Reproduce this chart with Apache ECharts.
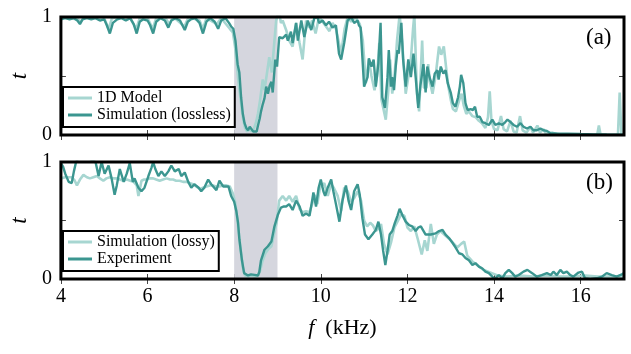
<!DOCTYPE html>
<html><head><meta charset="utf-8">
<script src="https://cdn.jsdelivr.net/npm/echarts@6/dist/echarts.min.js"></script>
<style>html,body{margin:0;padding:0;background:#fff}#c{width:631px;height:354px}</style>
</head><body><div id="c"></div>
<script>
const xTicks = [4, 6, 8, 10, 12, 14, 16];
const yTicks = [0, 1];
const band = [8, 9];
const panelLabels = ['(a)', '(b)'];
const seriesNames = ['1D Model', 'Simulation (lossless)', 'Simulation (lossy)', 'Experiment'];

const model1D = [[4.0,1.0],[4.2,0.99],[4.4,0.98],[4.45,0.96],[4.55,1.0],[4.8,0.99],[5.0,0.99],[5.1,0.9],[5.18,0.99],[5.4,1.0],[5.6,0.99],[5.74,0.9],[5.82,0.99],[6.0,0.99],[6.12,0.9],[6.2,0.99],[6.4,1.0],[6.5,0.94],[6.6,1.0],[6.85,0.92],[6.95,1.0],[7.2,0.97],[7.28,0.9],[7.36,0.99],[7.6,0.94],[7.7,0.99],[7.9,0.9],[7.97,0.87],[8.02,0.75],[8.06,0.6],[8.1,0.45],[8.15,0.3],[8.2,0.15],[8.25,0.06],[8.3,0.03],[8.35,0.05],[8.4,0.03],[8.45,0.05],[8.5,0.1],[8.55,0.18],[8.6,0.3],[8.66,0.47],[8.7,0.38],[8.78,0.58],[8.81,0.66],[8.87,0.53],[8.93,0.8],[8.97,0.97],[9.03,1.05],[9.08,0.95],[9.12,0.97],[9.2,0.89],[9.27,0.8],[9.35,0.75],[9.43,0.95],[9.51,0.78],[9.58,0.64],[9.66,0.97],[9.74,0.91],[9.8,0.97],[9.88,0.86],[9.96,1.0],[10.1,0.93],[10.2,0.88],[10.27,0.95],[10.35,0.9],[10.47,0.69],[10.55,0.9],[10.62,1.0],[10.7,0.96],[10.8,1.0],[10.9,0.94],[10.97,0.8],[11.04,0.44],[11.11,0.64],[11.17,0.5],[11.24,0.38],[11.3,0.5],[11.35,0.78],[11.4,0.3],[11.5,0.13],[11.56,0.38],[11.6,0.64],[11.65,0.35],[11.7,0.49],[11.76,0.8],[11.82,1.02],[11.88,0.78],[11.96,0.35],[12.02,0.49],[12.08,0.64],[12.13,0.9],[12.16,1.02],[12.22,0.35],[12.27,0.2],[12.34,0.8],[12.38,0.4],[12.44,0.4],[12.48,0.6],[12.52,0.45],[12.58,0.35],[12.65,0.5],[12.73,0.75],[12.78,0.68],[12.84,0.75],[12.9,0.55],[12.95,0.4],[13.0,0.3],[13.05,0.22],[13.12,0.2],[13.2,0.3],[13.25,0.35],[13.3,0.25],[13.36,0.18],[13.42,0.2],[13.5,0.16],[13.58,0.15],[13.65,0.12],[13.72,0.1],[13.8,0.06],[13.86,0.15],[13.9,0.37],[13.94,0.12],[14.0,0.05],[14.08,0.04],[14.16,0.16],[14.22,0.05],[14.3,0.03],[14.38,0.12],[14.45,0.03],[14.52,0.02],[14.6,0.16],[14.66,0.04],[14.75,0.02],[14.84,0.07],[14.9,0.02],[15.0,0.08],[15.06,0.02],[15.14,0.05],[15.2,0.01],[15.35,0.02],[15.5,0.0],[16.0,0.0],[16.38,0.0],[16.42,0.08],[16.46,0.0],[16.86,0.0],[16.9,0.36],[16.94,0.0],[17.0,0.0]];

const simLossless = [[4.0,0.98],[4.1,0.99],[4.2,0.98],[4.3,0.99],[4.38,0.97],[4.44,0.94],[4.5,0.98],[4.6,0.99],[4.7,0.98],[4.8,0.99],[4.9,0.97],[5.0,0.98],[5.06,0.93],[5.13,0.86],[5.2,0.95],[5.3,0.98],[5.4,0.99],[5.5,0.97],[5.6,0.99],[5.68,0.94],[5.75,0.86],[5.82,0.96],[5.9,0.98],[6.0,0.97],[6.06,0.93],[6.13,0.86],[6.2,0.96],[6.3,0.99],[6.4,0.97],[6.48,0.91],[6.55,0.97],[6.65,0.99],[6.75,0.97],[6.86,0.89],[6.93,0.96],[7.0,0.98],[7.1,0.99],[7.2,0.95],[7.28,0.86],[7.36,0.96],[7.45,0.99],[7.55,0.96],[7.63,0.9],[7.7,0.97],[7.8,0.99],[7.88,0.95],[7.93,0.92],[7.98,0.9],[8.03,0.8],[8.08,0.6],[8.12,0.53],[8.16,0.32],[8.2,0.18],[8.24,0.1],[8.28,0.06],[8.32,0.04],[8.36,0.07],[8.4,0.05],[8.44,0.03],[8.48,0.04],[8.52,0.03],[8.55,0.08],[8.59,0.14],[8.62,0.2],[8.66,0.26],[8.7,0.31],[8.74,0.41],[8.78,0.35],[8.82,0.42],[8.86,0.45],[8.89,0.36],[8.95,0.64],[8.99,0.58],[9.04,0.83],[9.12,0.82],[9.2,0.85],[9.24,0.8],[9.31,0.875],[9.35,0.78],[9.43,0.95],[9.47,0.8],[9.55,0.97],[9.62,0.83],[9.7,0.97],[9.78,0.89],[9.85,0.99],[9.92,1.0],[9.96,0.95],[10.04,0.97],[10.12,0.93],[10.19,0.96],[10.27,0.91],[10.35,0.93],[10.42,0.69],[10.47,0.64],[10.54,0.78],[10.62,0.97],[10.7,1.0],[10.77,0.95],[10.85,0.97],[10.88,0.93],[10.92,0.91],[11.0,0.41],[11.08,0.49],[11.11,0.65],[11.17,0.58],[11.22,0.64],[11.27,0.41],[11.33,0.61],[11.38,0.95],[11.42,0.32],[11.48,0.23],[11.54,0.49],[11.57,0.72],[11.62,0.41],[11.65,0.49],[11.69,0.38],[11.73,0.58],[11.77,0.72],[11.8,0.69],[11.86,0.95],[11.9,0.64],[11.96,0.41],[12.02,0.64],[12.08,0.49],[12.14,0.69],[12.19,0.49],[12.25,0.23],[12.3,0.42],[12.37,0.6],[12.42,0.36],[12.46,0.58],[12.51,0.49],[12.58,0.41],[12.63,0.52],[12.69,0.55],[12.72,0.47],[12.77,0.58],[12.83,0.52],[12.88,0.55],[12.93,0.44],[13.0,0.36],[13.05,0.27],[13.11,0.24],[13.17,0.32],[13.21,0.41],[13.24,0.51],[13.29,0.44],[13.34,0.27],[13.39,0.21],[13.46,0.22],[13.51,0.21],[13.56,0.24],[13.61,0.155],[13.67,0.155],[13.73,0.11],[13.8,0.1],[13.88,0.085],[13.96,0.13],[14.03,0.085],[14.11,0.1],[14.19,0.085],[14.26,0.11],[14.31,0.13],[14.38,0.11],[14.45,0.085],[14.53,0.07],[14.61,0.1],[14.68,0.07],[14.76,0.055],[14.84,0.07],[14.91,0.04],[14.99,0.04],[15.07,0.055],[15.14,0.04],[15.22,0.035],[15.3,0.015],[15.5,0.01],[15.7,0.012],[16.0,0.008],[16.3,0.005],[16.6,0.004],[17.0,0.003]];

const simLossy = [[4.0,0.86],[4.1,0.87],[4.25,0.87],[4.32,0.84],[4.37,0.8],[4.44,0.85],[4.52,0.89],[4.6,0.87],[4.67,0.86],[4.75,0.87],[4.83,0.88],[4.9,0.86],[4.98,0.84],[5.05,0.86],[5.13,0.87],[5.2,0.86],[5.29,0.86],[5.36,0.85],[5.44,0.84],[5.52,0.85],[5.6,0.84],[5.68,0.83],[5.75,0.8],[5.79,0.71],[5.83,0.78],[5.86,0.84],[5.92,0.85],[5.98,0.85],[6.05,0.86],[6.13,0.86],[6.2,0.85],[6.28,0.84],[6.36,0.85],[6.44,0.86],[6.52,0.85],[6.59,0.85],[6.66,0.84],[6.74,0.84],[6.82,0.83],[6.9,0.83],[6.97,0.82],[7.05,0.81],[7.13,0.79],[7.21,0.77],[7.28,0.78],[7.36,0.79],[7.44,0.8],[7.51,0.8],[7.58,0.79],[7.66,0.79],[7.74,0.8],[7.82,0.8],[7.9,0.79],[7.97,0.73],[8.02,0.66],[8.06,0.55],[8.1,0.42],[8.15,0.25],[8.2,0.1],[8.25,0.03],[8.32,0.02],[8.4,0.03],[8.48,0.02],[8.55,0.03],[8.6,0.07],[8.65,0.15],[8.72,0.22],[8.8,0.26],[8.86,0.28],[8.92,0.38],[8.98,0.48],[9.04,0.67],[9.12,0.71],[9.2,0.67],[9.27,0.71],[9.35,0.66],[9.43,0.71],[9.51,0.6],[9.58,0.57],[9.66,0.58],[9.74,0.57],[9.8,0.64],[9.86,0.72],[9.92,0.64],[9.98,0.78],[10.08,0.82],[10.16,0.71],[10.24,0.81],[10.3,0.78],[10.39,0.71],[10.47,0.58],[10.54,0.78],[10.62,0.75],[10.7,0.66],[10.77,0.69],[10.85,0.75],[10.93,0.67],[11.0,0.5],[11.07,0.45],[11.14,0.48],[11.2,0.46],[11.27,0.41],[11.33,0.43],[11.39,0.47],[11.46,0.3],[11.54,0.21],[11.62,0.31],[11.7,0.44],[11.77,0.49],[11.85,0.55],[11.93,0.54],[12.0,0.44],[12.08,0.41],[12.16,0.45],[12.24,0.34],[12.33,0.21],[12.4,0.33],[12.46,0.24],[12.54,0.47],[12.61,0.3],[12.68,0.38],[12.76,0.41],[12.85,0.38],[13.0,0.33],[13.15,0.27],[13.24,0.3],[13.31,0.32],[13.38,0.2],[13.5,0.15],[13.61,0.12],[13.75,0.08],[13.95,0.05],[14.08,0.03],[14.3,0.02],[14.6,0.03],[14.9,0.02],[15.2,0.03],[15.5,0.02],[15.8,0.02],[16.1,0.03],[16.4,0.02],[16.7,0.02],[17.0,0.02]];

const experiment = [[4.0,0.99],[4.05,0.96],[4.1,0.9],[4.18,0.83],[4.25,0.82],[4.3,0.92],[4.35,1.0],[4.4,1.03],[4.5,1.05],[4.6,1.04],[4.7,1.02],[4.8,1.0],[4.87,0.88],[4.94,1.0],[5.01,0.9],[5.1,0.97],[5.17,0.86],[5.24,0.72],[5.29,0.8],[5.36,0.94],[5.45,0.83],[5.52,0.9],[5.59,0.99],[5.66,0.83],[5.7,0.86],[5.79,0.78],[5.86,0.75],[5.93,0.78],[6.02,0.88],[6.09,0.95],[6.13,1.0],[6.18,0.94],[6.25,0.88],[6.32,0.92],[6.4,0.88],[6.48,0.92],[6.55,0.97],[6.63,0.92],[6.72,0.94],[6.78,0.88],[6.86,0.91],[6.94,0.83],[7.01,0.78],[7.08,0.81],[7.18,0.78],[7.24,0.75],[7.31,0.78],[7.4,0.85],[7.47,0.81],[7.59,0.76],[7.66,0.84],[7.75,0.79],[7.87,0.79],[7.93,0.71],[8.0,0.66],[8.05,0.58],[8.09,0.48],[8.12,0.34],[8.18,0.16],[8.23,0.05],[8.32,0.03],[8.39,0.04],[8.47,0.035],[8.55,0.03],[8.58,0.06],[8.62,0.16],[8.7,0.25],[8.78,0.28],[8.86,0.32],[8.93,0.45],[9.01,0.55],[9.08,0.61],[9.15,0.62],[9.2,0.62],[9.27,0.64],[9.35,0.59],[9.43,0.67],[9.51,0.62],[9.58,0.54],[9.66,0.56],[9.74,0.54],[9.8,0.67],[9.83,0.74],[9.89,0.62],[9.95,0.78],[10.0,0.85],[10.06,0.75],[10.1,0.71],[10.16,0.78],[10.24,0.85],[10.29,0.75],[10.35,0.64],[10.43,0.49],[10.5,0.67],[10.58,0.8],[10.64,0.67],[10.7,0.59],[10.77,0.75],[10.85,0.81],[10.9,0.72],[10.96,0.52],[11.02,0.38],[11.1,0.34],[11.19,0.38],[11.27,0.42],[11.33,0.49],[11.39,0.38],[11.44,0.24],[11.49,0.12],[11.54,0.24],[11.59,0.38],[11.65,0.41],[11.71,0.48],[11.77,0.54],[11.82,0.6],[11.89,0.54],[11.96,0.49],[12.04,0.46],[12.11,0.45],[12.19,0.41],[12.25,0.44],[12.31,0.45],[12.42,0.38],[12.54,0.38],[12.65,0.39],[12.73,0.41],[12.81,0.42],[12.88,0.38],[12.96,0.35],[13.04,0.31],[13.11,0.27],[13.19,0.22],[13.27,0.21],[13.34,0.18],[13.42,0.16],[13.5,0.12],[13.57,0.135],[13.65,0.106],[13.73,0.09],[13.8,0.063],[13.88,0.05],[13.96,0.02],[14.01,0.0],[14.11,0.034],[14.19,0.006],[14.26,0.05],[14.34,0.078],[14.42,0.05],[14.49,0.02],[14.57,0.034],[14.68,0.063],[14.77,0.078],[14.88,0.05],[14.99,0.02],[15.1,0.034],[15.22,0.05],[15.31,0.034],[15.37,0.063],[15.45,0.034],[15.53,0.078],[15.6,0.05],[15.68,0.063],[15.76,0.034],[15.83,0.02],[15.95,0.055],[16.03,0.063],[16.1,0.006],[16.22,0.0],[16.37,0.006],[16.49,0.02],[16.6,0.05],[16.72,0.034],[16.83,0.02],[16.95,0.04],[17.0,0.05]];

const DARK = '#3b9690';
const LIGHT = '#a7d6d1';
const FONT = 'Liberation Serif';

const chart = echarts.init(document.getElementById('c'), null, {renderer: 'canvas'});

const grids = [
  {left: 59, top: 17, width: 565, height: 118},
  {left: 59, top: 162, width: 565, height: 117}
].map(g => Object.assign(g, {show: true, borderColor: '#000', borderWidth: 3, backgroundColor: 'transparent', z: 5}));

function xAx(gi, pos, labels) {
  return {
    type: 'value', gridIndex: gi, position: pos, min: 4, max: 17, interval: 2,
    axisLine: {show: false},
    splitLine: {show: false},
    axisTick: {show: true, inside: true, length: 5, customValues: xTicks, lineStyle: {color: '#444', width: 1}},
    axisLabel: {show: labels, customValues: xTicks, color: '#000', fontFamily: FONT, fontSize: 20, margin: 8},
    name: labels ? '{i|f}  (kHz)' : '',
    nameLocation: 'middle', nameGap: 38,
    nameTextStyle: {color: '#000', fontFamily: FONT, fontSize: 22, rich: {i: {fontStyle: 'italic', fontFamily: FONT, fontSize: 22}}}
  };
}
function yAx(gi, pos, labels) {
  return {
    type: 'value', gridIndex: gi, position: pos, min: 0, max: 1, interval: 0.5,
    axisLine: {show: false},
    splitLine: {show: false},
    axisTick: {show: true, inside: true, length: 5, lineStyle: {color: '#444', width: 1}},
    axisLabel: {show: labels, customValues: yTicks, color: '#000', fontFamily: FONT, fontSize: 20, margin: 9},
    name: labels ? 't' : '',
    nameLocation: 'middle', nameRotate: 90, nameGap: 22,
    nameTextStyle: {color: '#000', fontFamily: FONT, fontSize: 23, fontStyle: 'italic'}
  };
}

function lineSeries(name, data, color, gi, width, z) {
  return {
    name, type: 'line', data, xAxisIndex: gi * 2, yAxisIndex: gi * 2,
    showSymbol: false, symbol: 'none', smooth: false, clip: true,
    color, lineStyle: {color, width}, z, animation: false
  };
}

function bandSeries(gi) {
  return {
    type: 'line', data: [], xAxisIndex: gi * 2, yAxisIndex: gi * 2, z: 1, silent: true,
    markArea: {silent: true, itemStyle: {color: '#d5d6de'}, data: [[{xAxis: band[0]}, {xAxis: band[1]}]]}
  };
}

function legend(gi, names, top) {
  return {
    data: names, left: 63, top, orient: 'vertical',
    icon: 'rect', itemWidth: 24, itemHeight: 3, itemGap: 1,
    padding: [3, 4, 4, 5],
    borderColor: '#000', borderWidth: 2, backgroundColor: '#fff',
    textStyle: {color: '#000', fontFamily: FONT, fontSize: 16, lineHeight: 16},
    selectedMode: false, z: 10
  };
}

chart.setOption({
  animation: false,
  grid: grids,
  xAxis: [xAx(0, 'bottom', false), xAx(0, 'top', false), xAx(1, 'bottom', true), xAx(1, 'top', false)],
  yAxis: [yAx(0, 'left', true), yAx(0, 'right', false), yAx(1, 'left', true), yAx(1, 'right', false)],
  legend: [legend(0, [seriesNames[0], seriesNames[1]], 87), legend(1, [seriesNames[2], seriesNames[3]], 231)],
  series: [
    bandSeries(0), bandSeries(1),
    lineSeries(seriesNames[0], model1D, LIGHT, 0, 2.6, 2),
    lineSeries(seriesNames[1], simLossless, DARK, 0, 2.4, 3),
    lineSeries(seriesNames[2], simLossy, LIGHT, 1, 2.6, 2),
    lineSeries(seriesNames[3], experiment, DARK, 1, 2.4, 3)
  ],
  graphic: [
    {type: 'text', left: 586, top: 26, z: 20, style: {text: panelLabels[0], font: '23px "Liberation Serif"', fill: '#000'}},
    {type: 'text', left: 586, top: 171, z: 20, style: {text: panelLabels[1], font: '23px "Liberation Serif"', fill: '#000'}}
  ]
});
</script></body></html>
